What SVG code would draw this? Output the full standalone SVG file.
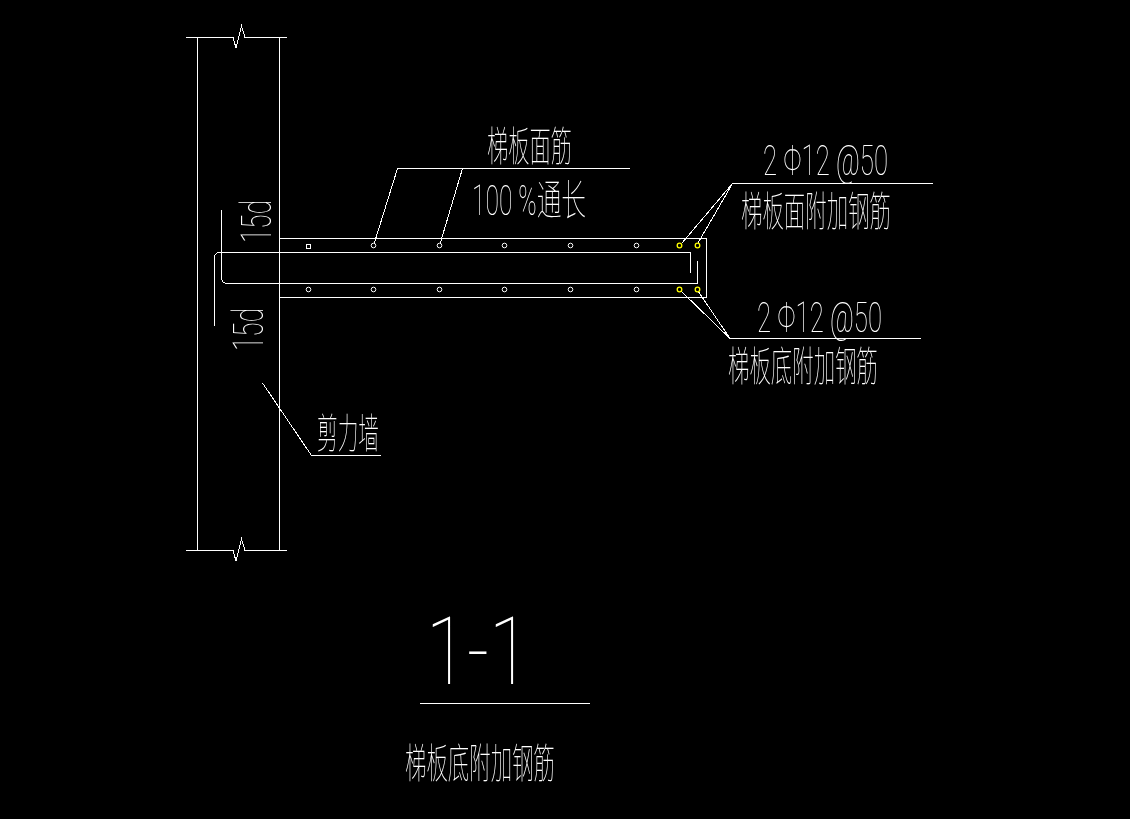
<svg xmlns="http://www.w3.org/2000/svg" width="1130" height="819" viewBox="0 0 1130 819">
<style>
.l{fill:none;stroke:#fff;stroke-width:1;shape-rendering:crispEdges}
.y{fill:none;stroke:#ff0;stroke-width:1.300}
.d{fill:none;stroke:#fff;stroke-width:1}
text{fill:#fff}
.c{font-family:"Noto Sans CJK SC","Noto Sans CJK JP",sans-serif;font-weight:100;font-size:41px}
.n{font-family:Roboto,"Liberation Sans","Noto Sans CJK SC",sans-serif;font-weight:100;font-size:42px}
</style>
<defs><filter id="g" x="0" y="0" width="1130" height="819" filterUnits="userSpaceOnUse" color-interpolation-filters="sRGB"><feOffset dx="0" dy="0"/></filter></defs>
<rect width="1130" height="819" fill="#000"/>
<g id="wall" class="l">
<path d="M185.500 37.500H233L236 48L241.500 26L245 37.500H286.500"/>
<path d="M185.500 550.500H233L236 561L241.500 539L245 550.500H286.500"/>
<path d="M197.500 37.500V550.500M279.500 37.500V550.500"/>
</g>
<g id="slab" class="l">
<path d="M279.500 238.500H706.500V297.500H279.500"/>
</g>
<g id="rebar" class="l">
<path d="M214.500 325.500V258Q214.500 252.500 220 252.500H690.500V273"/>
<path d="M221.500 210V277Q221.500 283.500 228 283.500H697.500V261"/>
</g>
<g id="connectors" class="l">
<path d="M630 168.500H397.500L374 244M462.500 168.500L440 244"/>
<path d="M933 183.500H732.500L682 243M732.500 183.500L698 243"/>
<path d="M921 338.500H730L681 291M730 338.500L698 291"/>
<path d="M262.500 383L311.500 455.500H381"/>
<path d="M420 703.500H590"/>
</g>
<g id="bars-top">
<rect x="306" y="244" width="4" height="4" class="d" shape-rendering="crispEdges"/>
<circle cx="373.500" cy="245.500" r="2.300" class="d"/>
<circle cx="439.500" cy="245.500" r="2.300" class="d"/>
<circle cx="504.500" cy="245.500" r="2.300" class="d"/>
<circle cx="570.500" cy="245.500" r="2.300" class="d"/>
<circle cx="636.500" cy="245.500" r="2.300" class="d"/>
<circle cx="679.500" cy="245.500" r="2.300" class="y"/>
<circle cx="697.500" cy="245.500" r="2.300" class="y"/>
</g>
<g id="bars-bottom">
<circle cx="308.500" cy="289.500" r="2.300" class="d"/>
<circle cx="373.500" cy="289.500" r="2.300" class="d"/>
<circle cx="439.500" cy="289.500" r="2.300" class="d"/>
<circle cx="504.500" cy="289.500" r="2.300" class="d"/>
<circle cx="570.500" cy="289.500" r="2.300" class="d"/>
<circle cx="636.500" cy="289.500" r="2.300" class="d"/>
<circle cx="679.500" cy="289.500" r="2.300" class="y"/>
<circle cx="697.500" cy="289.500" r="2.300" class="y"/>
</g>
<g filter="url(#g)">
<g id="label-top">
<text class="c" x="487" y="161" textLength="85" lengthAdjust="spacingAndGlyphs">梯板面筋</text>
<text class="n" x="472" y="215" textLength="114" lengthAdjust="spacingAndGlyphs">100 %通长</text>
</g>
<g id="label-right-top">
<text class="n" x="763" y="175" textLength="125" lengthAdjust="spacingAndGlyphs">2 Φ12 @50</text>
<text class="c" x="741" y="226" textLength="150" lengthAdjust="spacingAndGlyphs">梯板面附加钢筋</text>
</g>
<g id="label-right-bottom">
<text class="n" x="757" y="332" textLength="125" lengthAdjust="spacingAndGlyphs">2 Φ12 @50</text>
<text class="c" x="728" y="381" textLength="150" lengthAdjust="spacingAndGlyphs">梯板底附加钢筋</text>
</g>
<g id="label-wall">
<text class="c" x="317" y="448" textLength="62" lengthAdjust="spacingAndGlyphs">剪力墙</text>
</g>
<g id="label-15d">
<text class="n" transform="translate(271 243) rotate(-90)" textLength="43" lengthAdjust="spacingAndGlyphs">15d</text>
<text class="n" transform="translate(263 351) rotate(-90)" textLength="43" lengthAdjust="spacingAndGlyphs">15d</text>
</g>
<g id="title">
<text class="n" x="426" y="684" style="font-size:95px" textLength="104" lengthAdjust="spacingAndGlyphs">1-1</text>
<text class="c" x="405" y="778" textLength="150" lengthAdjust="spacingAndGlyphs">梯板底附加钢筋</text>
</g>
</g>
</svg>
